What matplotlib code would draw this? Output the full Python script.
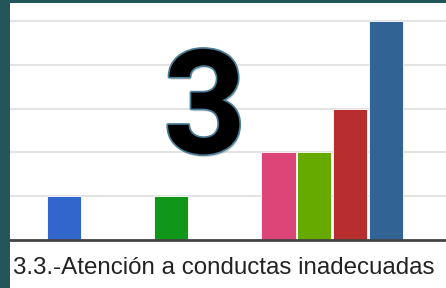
import matplotlib
matplotlib.use("Agg")
import matplotlib.pyplot as plt
import matplotlib.patheffects as pe
from matplotlib.patches import Rectangle

# datos
posiciones = [1.5, 4.5, 7.5, 8.5, 9.5, 10.5]
valores = [1, 1, 2, 2, 3, 5]
colores = ["#3366cc", "#109618", "#dd4477", "#66aa00", "#b82e2e", "#316395"]
ticks_y = [0, 1, 2, 3, 4, 5]
titulo = "3.3.-Atención a conductas inadecuadas"
numero = "3"

W, H = 446, 288
fig = plt.figure(figsize=(W / 100, H / 100), dpi=100)
fig.patch.set_facecolor("#22565a")

# panel blanco
fig.patches.append(Rectangle((10 / W, 0), 1 - 10 / W, 1 - 3 / H,
                             transform=fig.transFigure, facecolor="white",
                             edgecolor="none", zorder=0))

ax = fig.add_axes([10 / W, 1 - 240 / H, 1 - 10 / W, (240 - 3) / H])
ax.set_zorder(2)
ax.set_facecolor("white")
ax.bar(posiciones, valores, width=0.95, color=colores, edgecolor="white",
       linewidth=0.6, zorder=3)
ax.set_xlim(0, 436 / 35.8)
ax.set_ylim(0, 5.41)
ax.set_yticks(ticks_y)
ax.grid(axis="y", color="#e3e3e3", linewidth=1.5, zorder=0)
ax.tick_params(left=False, bottom=False, labelleft=False, labelbottom=False)
for s in ["top", "right", "left"]:
    ax.spines[s].set_visible(False)
ax.spines["bottom"].set_color("#444444")
ax.spines["bottom"].set_linewidth(2)
ax.spines["bottom"].set_zorder(4)

# numero grande
t = fig.text(205 / W, 1 - 153 / H, numero, ha="center", va="baseline",
             fontsize=104, fontweight="bold", family="Roboto", color="black",
             path_effects=[pe.SimplePatchShadow(offset=(1, -2), alpha=0.15),
                           pe.withStroke(linewidth=2.5, foreground="#4a7d96")],
             zorder=10)
t.set_zorder(10)

fig.text(13 / W, 1 - 274 / H, titulo, ha="left", va="baseline",
         fontsize=17.4, family="Liberation Sans", color="#222222", zorder=10)

fig.savefig("out.png", dpi=100, facecolor=fig.get_facecolor())
